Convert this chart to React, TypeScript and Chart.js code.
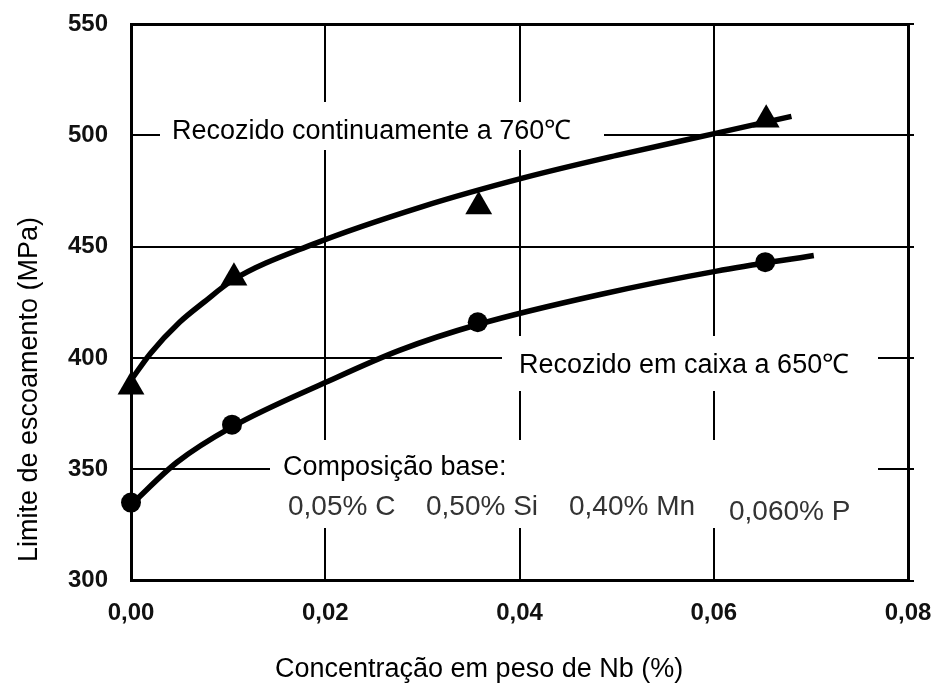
import React, { useEffect, useRef } from "react";
import { Chart, registerables } from "chart.js";

Chart.register(...registerables);

// Yield strength (MPa) vs Nb content (wt %) – measured samples
const nb760 = [0.0, 0.0106, 0.0358, 0.0654];
const ys760 = [387, 436, 468, 507];
const nb650 = [0.0, 0.0104, 0.0357, 0.0653];
const ys650 = [335, 370, 416, 443];

// Trend curves through the measurements
const nbCurve760 = [0, 0.002, 0.005, 0.0075, 0.0105, 0.0187, 0.03, 0.0405, 0.05, 0.0603, 0.068];
const ysCurve760 = [390, 402, 416, 425, 435, 451, 468, 481, 491, 501, 508.5];
const nbCurve650 = [0, 0.0047, 0.0104, 0.0203, 0.0277, 0.0357, 0.0483, 0.0603, 0.0703];
const ysCurve650 = [334, 353, 369, 389.5, 403.5, 415, 428.5, 439, 446];

const xTicks = [0, 0.02, 0.04, 0.06, 0.08];
const xTickLabels = ["0,00", "0,02", "0,04", "0,06", "0,08"];
const yTicks = [300, 350, 400, 450, 500, 550];

const label760 = "Recozido continuamente a 760℃";
const label650 = "Recozido em caixa a 650℃";
const compositionTitle = "Composição base:";
const compositionItems = ["0,05% C", "0,50% Si", "0,40% Mn", "0,060% P"];
const xTitle = "Concentração em peso de Nb (%)";
const yTitle = "Limite de escoamento (MPa)";

const FONT = "'Liberation Sans', Arial, Helvetica, sans-serif";

const zip = (xs: number[], ys: number[]) => xs.map((x, i) => ({ x, y: ys[i] }));

const annotations = {
  id: "annotations",
  beforeDatasetsDraw(chart: any) {
    const ctx = chart.ctx as CanvasRenderingContext2D;
    ctx.save();
    // white panels behind the labels interrupt the grid
    ctx.fillStyle = "#fff";
    ctx.fillRect(160, 102, 444, 48);
    ctx.fillRect(502, 336, 376, 55);
    ctx.fillRect(270, 440, 608, 88);

    ctx.fillStyle = "#000";
    ctx.textAlign = "left";
    ctx.textBaseline = "alphabetic";
    ctx.font = `27px ${FONT}`;
    ctx.fillText(label760, 172, 139);
    ctx.fillText(label650, 519, 373);
    ctx.fillText(compositionTitle, 283, 475);

    ctx.font = `28px ${FONT}`;
    ctx.fillStyle = "#333";
    const itemX = [288, 426, 569, 729];
    const itemY = [515, 515, 515, 520];
    compositionItems.forEach((t, i) => ctx.fillText(t, itemX[i], itemY[i]));
    ctx.restore();
  },
  afterDraw(chart: any) {
    const ctx = chart.ctx as CanvasRenderingContext2D;
    ctx.save();
    ctx.fillStyle = "#000";
    ctx.font = `27px ${FONT}`;
    ctx.textAlign = "left";
    ctx.textBaseline = "alphabetic";
    ctx.fillText(xTitle, 275, 677);
    ctx.translate(37, 389.5);
    ctx.rotate(-Math.PI / 2);
    ctx.textAlign = "center";
    ctx.fillText(yTitle, 0, 0);
    ctx.restore();
  },
};

export default function App() {
  const ref = useRef<HTMLCanvasElement>(null);

  useEffect(() => {
    const tickFont = { family: FONT, size: 24, weight: "bold" as const };
    const chart = new Chart(ref.current!, {
      type: "scatter",
      data: {
        datasets: [
          {
            label: label760,
            data: zip(nb760, ys760),
            pointStyle: "triangle",
            pointRadius: 15.5,
            backgroundColor: "#000",
            borderColor: "#000",
            borderWidth: 0,
            showLine: false,
            clip: false,
          },
          {
            label: label650,
            data: zip(nb650, ys650),
            pointStyle: "circle",
            pointRadius: 10,
            backgroundColor: "#000",
            borderColor: "#000",
            borderWidth: 0,
            showLine: false,
            clip: false,
          },
          {
            label: label760 + " (curva)",
            data: zip(nbCurve760, ysCurve760),
            showLine: true,
            borderColor: "#000",
            borderWidth: 5.5,
            pointRadius: 0,
            cubicInterpolationMode: "monotone",
            fill: false,
            clip: false,
          },
          {
            label: label650 + " (curva)",
            data: zip(nbCurve650, ysCurve650),
            showLine: true,
            borderColor: "#000",
            borderWidth: 5.5,
            pointRadius: 0,
            cubicInterpolationMode: "monotone",
            fill: false,
            clip: false,
          },
        ],
      },
      options: {
        responsive: false,
        animation: false,
        devicePixelRatio: 1,
        layout: { padding: { top: 24, left: 0, right: 0, bottom: 0 } },
        plugins: {
          legend: { display: false },
          tooltip: { enabled: false },
        },
        scales: {
          x: {
            type: "linear",
            min: 0,
            max: 0.08,
            afterFit: (s: any) => {
              s.height = 103.5;
              s.paddingLeft = 0;
              s.paddingRight = 0;
            },
            afterBuildTicks: (s: any) => {
              s.ticks = xTicks.map((v) => ({ value: v }));
            },
            ticks: {
              font: tickFont,
              color: "#111",
              padding: 18,
              maxRotation: 0,
              callback: (_v: any, i: number) => xTickLabels[i],
            },
            grid: {
              color: "#000",
              lineWidth: (c: any) => (c.tick && c.tick.value === 0.08 ? 3 : 2),
              drawTicks: false,
            },
            border: { color: "#000", width: 3 },
          },
          y: {
            type: "linear",
            min: 300,
            max: 550,
            afterFit: (s: any) => {
              s.width = 131;
              s.paddingTop = 0;
              s.paddingBottom = 0;
            },
            afterBuildTicks: (s: any) => {
              s.ticks = yTicks.map((v) => ({ value: v }));
            },
            ticks: {
              font: tickFont,
              color: "#111",
              padding: 23,
              callback: (v: any) => String(v),
            },
            grid: {
              color: "#000",
              lineWidth: (c: any) => (c.tick && c.tick.value === 550 ? 3 : 2),
              drawTicks: false,
            },
            border: { color: "#000", width: 3 },
          },
          y2: {
            type: "linear",
            position: "right",
            min: 300,
            max: 550,
            afterFit: (s: any) => {
              s.width = 34;
              s.paddingTop = 0;
              s.paddingBottom = 0;
            },
            afterBuildTicks: (s: any) => {
              s.ticks = yTicks.map((v) => ({ value: v }));
            },
            ticks: { display: false },
            grid: {
              color: "#000",
              lineWidth: 2,
              drawOnChartArea: false,
              drawTicks: true,
              tickLength: 6,
            },
            border: { color: "#000", width: 3 },
          },
        },
      },
      plugins: [annotations],
    });
    return () => chart.destroy();
  }, []);

  return (
    <div
      style={{
        position: "absolute",
        left: 0,
        top: 0,
        width: 942,
        height: 684,
        background: "#fff",
      }}
    >
      <canvas
        ref={ref}
        width={942}
        height={684}
        style={{ display: "block", width: 942, height: 684 }}
      />
    </div>
  );
}
